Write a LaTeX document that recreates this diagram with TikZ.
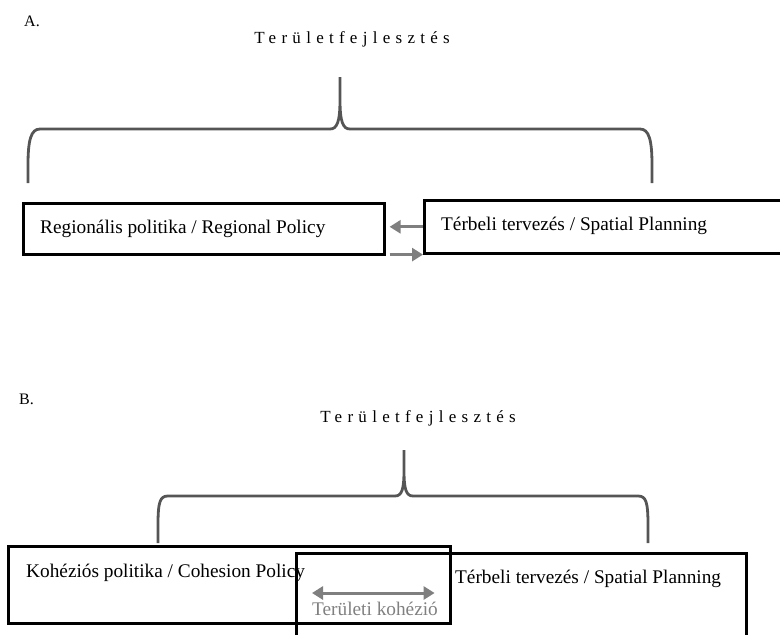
\documentclass[tikz,border=0pt]{standalone}
\usepackage{fontspec}
\setmainfont{Liberation Serif}
\usetikzlibrary{arrows.meta}
\definecolor{bracegray}{HTML}{555555}
\definecolor{arrgray}{HTML}{7F7F7F}
\definecolor{txtgray}{HTML}{808080}
\begin{document}
\begin{tikzpicture}[x=1pt,y=-1pt,
  boxstyle/.style={draw=black, line width=2.6pt, rectangle, inner sep=0pt},
  lbl/.style={anchor=base west, inner sep=0pt, font=\fontsize{19.3}{22}\selectfont},
  ttl/.style={anchor=base, inner sep=0pt, font=\fontsize{17}{20}\selectfont\addfontfeatures{LetterSpace=31}},
  letter/.style={anchor=base west, inner sep=0pt, font=\fontsize{16}{18}\selectfont},
  bracestyle/.style={draw=bracegray, line width=2.8pt},
  flow/.style={draw=arrgray, line width=3pt, -{Triangle[length=11pt,width=13pt]}},
  dflow/.style={draw=arrgray, line width=3pt, {Triangle[length=11pt,width=13pt]}-{Triangle[length=11pt,width=13pt]}},
]
\useasboundingbox (0,0) rectangle (780,635);

% ---------- A ----------
\node[letter] (la) at (24,26) {A.};
\node[ttl] (tA) at (352,43) {Területfejlesztés};
\draw[bracestyle] (28,183) -- (28,165) .. controls (28,140) and (31,129) .. (40,129) -- (330,129)
  .. controls (337,129) and (340,122) .. (340,100) -- (340,77) -- (340,100)
  .. controls (340,122) and (343,129) .. (350,129) -- (640,129)
  .. controls (649,129) and (652,140) .. (652,165) -- (652,183);

\node[boxstyle, minimum width=361pt, minimum height=51pt, anchor=north west] (a1) at (22,202) {};
\node[boxstyle, minimum width=380pt, minimum height=53pt, anchor=north west] (a2) at (423,199) {};
\node[lbl] (ta1) at (40,233) {Regionális politika / Regional Policy};
\node[lbl] (ta2) at (441,230) {Térbeli tervezés / Spatial Planning};

\draw[flow, shorten >=4pt] (a2.west) -- (a1.east |- a2.west);
\draw[flow] ([xshift=4pt]a1.south east |- a2.south west) -- (a2.south west);

% ---------- B ----------
\node[letter] (lb) at (19,404) {B.};
\node[ttl] (tB) at (418,422) {Területfejlesztés};
\draw[bracestyle] (158,543) -- (158,525) .. controls (158,502) and (160,496) .. (168,496) -- (395,496)
  .. controls (402,496) and (404,489) .. (404,470) -- (404,450) -- (404,470)
  .. controls (404,489) and (406,496) .. (413,496) -- (638,496)
  .. controls (646,496) and (648,502) .. (648,525) -- (648,543);

\node[boxstyle, minimum width=442pt, minimum height=77pt, anchor=north west] (b1) at (7,545) {};
\node[boxstyle, minimum width=450pt, minimum height=100pt, anchor=north west] (b2) at (295,552) {};
\node[lbl] (tb1) at (26,577) {Kohéziós politika / Cohesion Policy};
\node[lbl] (tb2) at (455,583) {Térbeli tervezés / Spatial Planning};

\coordinate (dl) at ([xshift=17pt]b2.west |- 0,593);
\coordinate (dr) at ([xshift=-17pt]b1.east |- 0,593);
\draw[dflow] (dl) -- (dr);
\node[lbl, text=txtgray] (tk) at (312,615) {Területi kohézió};
\end{tikzpicture}
\end{document}
